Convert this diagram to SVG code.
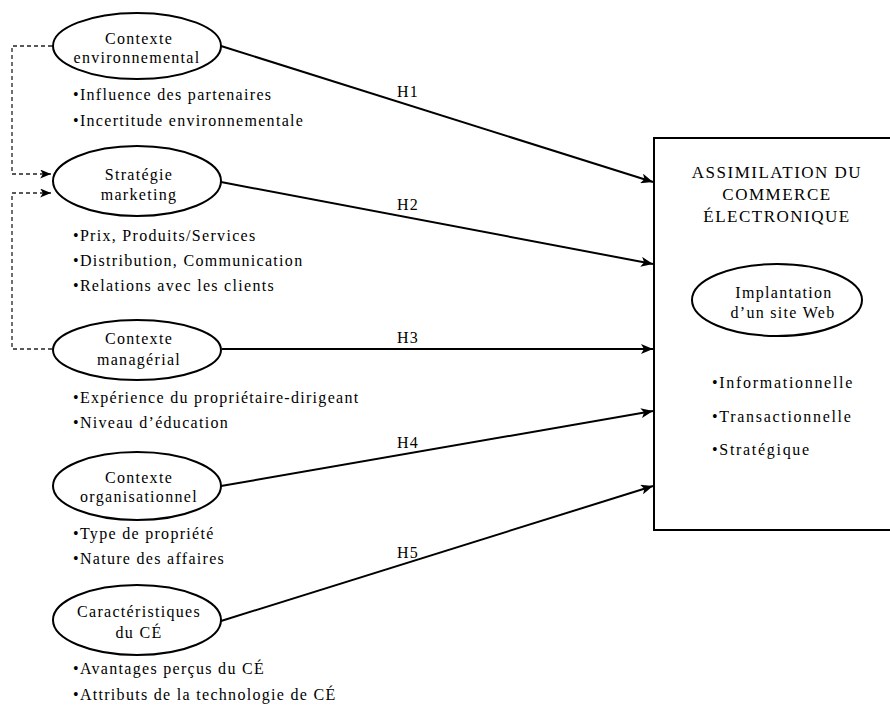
<svg xmlns="http://www.w3.org/2000/svg" width="890" height="707" viewBox="0 0 890 707" font-family="'Liberation Serif', 'Times New Roman', Times, 'DejaVu Serif', serif">
<style>
text{font-family:'Liberation Serif','Times New Roman',Times,'DejaVu Serif',serif;font-size:16px;letter-spacing:1.3px;fill:#000}
.c{text-anchor:middle}
.t{font-size:17px;letter-spacing:1.5px}
.b{letter-spacing:1.7px}
.node ellipse{fill:#fff;stroke:#000;stroke-width:2}
.arr{stroke:#000;stroke-width:2;fill:none;marker-end:url(#ah)}
.dash{stroke:#222;stroke-width:1.3;fill:none;stroke-dasharray:4,3}
.dasharr{marker-end:url(#ahs)}
</style>
<defs>
<marker id="ah" viewBox="0 0 12 10" refX="12" refY="5" markerWidth="12" markerHeight="10" markerUnits="userSpaceOnUse" orient="auto">
<path d="M0,0 L12,5 L0,10 L3,5 z" fill="#000"/>
</marker>
<marker id="ahs" viewBox="0 0 12 10" refX="12" refY="5" markerWidth="11" markerHeight="9" markerUnits="userSpaceOnUse" orient="auto">
<path d="M0,0 L12,5 L0,10 L3,5 z" fill="#000"/>
</marker>
</defs>
<rect width="890" height="707" fill="#fff"/>

<g id="connectors">
<path class="dash dasharr" d="M52,46 H12 V174 H51"/>
<path class="dash dasharr" d="M52,349 H12 V193 H51"/>
<line class="arr" x1="221" y1="46" x2="653" y2="182"/>
<line class="arr" x1="221" y1="182" x2="653" y2="264"/>
<line class="arr" x1="222" y1="349" x2="653" y2="349"/>
<line class="arr" x1="221" y1="486" x2="653" y2="411"/>
<line class="arr" x1="221" y1="621" x2="653" y2="486"/>
<text x="397" y="97">H1</text>
<text x="397" y="210">H2</text>
<text x="397" y="343">H3</text>
<text x="397" y="448">H4</text>
<text x="397" y="558">H5</text>
</g>

<g id="env" class="node">
<ellipse cx="137" cy="46" rx="84" ry="33"/>
<text class="c" x="139" y="44">Contexte</text>
<text class="c" x="137" y="63">environnemental</text>
<text x="73" y="100">•Influence des partenaires</text>
<text x="73" y="126">•Incertitude environnementale</text>
</g>

<g id="strat" class="node">
<ellipse cx="137" cy="181" rx="84" ry="35"/>
<text class="c" x="139" y="180">Stratégie</text>
<text class="c" x="139" y="200">marketing</text>
<text x="73" y="241">•Prix, Produits/Services</text>
<text x="73" y="266">•Distribution, Communication</text>
<text x="73" y="291">•Relations avec les clients</text>
</g>

<g id="man" class="node">
<ellipse cx="137" cy="350" rx="84" ry="30"/>
<text class="c" x="139" y="344">Contexte</text>
<text class="c" x="139" y="365">managérial</text>
<text x="73" y="403">•Expérience du propriétaire-dirigeant</text>
<text x="73" y="428">•Niveau d’éducation</text>
</g>

<g id="org" class="node">
<ellipse cx="137" cy="486" rx="84" ry="34"/>
<text class="c" x="139" y="483">Contexte</text>
<text class="c" x="139" y="502">organisationnel</text>
<text x="73" y="539">•Type de propriété</text>
<text x="73" y="564">•Nature des affaires</text>
</g>

<g id="car" class="node">
<ellipse cx="137" cy="620" rx="84" ry="35"/>
<text class="c" x="139" y="617">Caractéristiques</text>
<text class="c" x="139" y="638">du CÉ</text>
<text x="73" y="674">•Avantages perçus du CÉ</text>
<text x="73" y="700">•Attributs de la technologie de CÉ</text>
</g>

<g id="assim" class="node">
<rect x="654" y="138" width="250" height="392" fill="#fff" stroke="#000" stroke-width="2"/>
<text class="c t" x="777" y="178">ASSIMILATION DU</text>
<text class="c t" x="777" y="200">COMMERCE</text>
<text class="c t" x="777" y="222">ÉLECTRONIQUE</text>
<ellipse cx="777" cy="300" rx="85" ry="36"/>
<text class="c" x="784" y="298">Implantation</text>
<text class="c" x="783" y="318">d’un site Web</text>
<text class="b" x="712" y="388">•Informationnelle</text>
<text class="b" x="712" y="422">•Transactionnelle</text>
<text class="b" x="712" y="455">•Stratégique</text>
</g>
</svg>
